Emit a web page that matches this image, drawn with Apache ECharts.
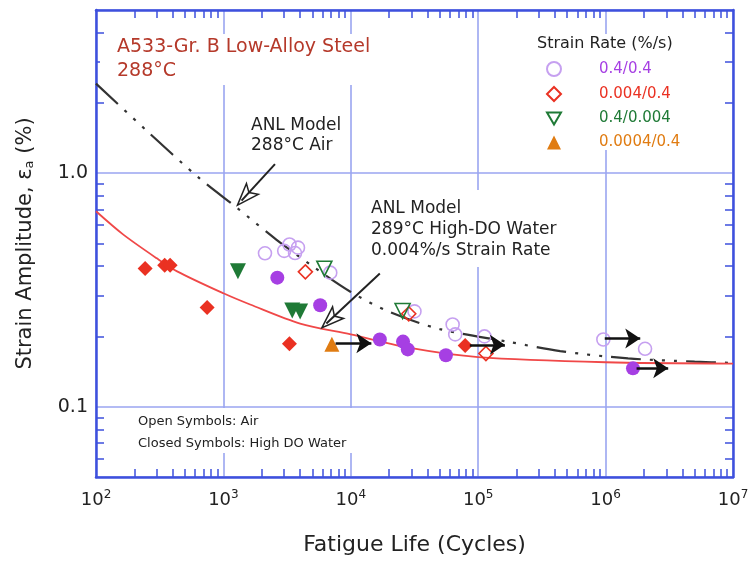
<!DOCTYPE html>
<html>
<head>
<meta charset="utf-8">
<script src="https://cdn.jsdelivr.net/npm/echarts@6/dist/echarts.min.js"></script>
<style>
html, body { margin: 0; padding: 0; background: #fff; }
#chart { width: 753px; height: 563px; }
</style>
</head>
<body>
<div id="chart"></div>
<script>
// Low-cycle fatigue of A533-Gr. B low-alloy steel at 288 °C
const FONT = 'DejaVu Sans';
const BLUE = '#3e50dd';
const GRID = '#9aa5f0';
const INK = '#222';

// Strain-rate groups (tension/compression, %/s)
const rateNames = ['0.4/0.4', '0.004/0.4', '0.4/0.004', '0.0004/0.4'];
const rateColors = ['#a63fe3', '#ea3122', '#1f7a36', '#e07c12'];
const openStroke = ['#c6a0f0', '#ea3122', '#1f7a36', '#e07c12'];
// Legend icons (the 0.4/0.004 group uses a downward triangle)
const legendIcons = ['circle', 'diamond', 'path://M0,0L12,0L6,10.4Z', 'triangle'];

// Open symbols: air tests
const air_04_04_N = [2120, 3000, 3300, 3650, 3850, 6900, 31600, 63000, 66000, 112000, 960000, 2040000];
const air_04_04_E = [0.454, 0.465, 0.495, 0.455, 0.480, 0.375, 0.256, 0.225, 0.204, 0.200, 0.194, 0.177];
const air_0004_04_N = [4400, 28500, 115000];
const air_0004_04_E = [0.378, 0.250, 0.169];
const air_04_0004_N = [6200, 25500];
const air_04_0004_E = [0.390, 0.257];

// Closed symbols: high-DO water tests
const wat_04_04_N = [2650, 5750, 16900, 25700, 28000, 55800, 1640000];
const wat_04_04_E = [0.357, 0.272, 0.194, 0.190, 0.176, 0.166, 0.146];
const wat_0004_04_N = [243, 346, 382, 745, 3300, 79000];
const wat_0004_04_E = [0.391, 0.403, 0.403, 0.266, 0.186, 0.183];
const wat_04_0004_N = [1300, 3470, 4000];
const wat_04_0004_E = [0.380, 0.258, 0.256];
const wat_00004_04_N = [7100];
const wat_00004_04_E = [0.185];

// Run-out tests (no failure): start and end of each arrow
const runStartN = [7600, 86000, 985000, 1750000];
const runEndN = [14500, 162000, 1870000, 3100000];
const runE = [0.187, 0.184, 0.196, 0.146];

// ANL model curves
const modelAirN = [100, 250, 650, 1280, 2600, 5000, 10000, 20000, 50000, 170000, 440000, 1500000, 5000000, 10000000];
const modelAirE = [2.42, 1.52, 0.95, 0.71, 0.52, 0.40, 0.31, 0.255, 0.215, 0.19, 0.173, 0.161, 0.156, 0.154];
const modelWatN = [100, 163, 300, 433, 1000, 1620, 4000, 10000, 30000, 100000, 1000000, 10000000];
const modelWatE = [0.687, 0.547, 0.432, 0.38, 0.306, 0.274, 0.227, 0.204, 0.178, 0.163, 0.155, 0.153];

// Axis ranges and minor tick positions
const xRange = [100, 10000000];
const yRange = [0.05, 5];
const xMinor = [];
for (let d = 100; d < 10000000; d *= 10) for (let k = 2; k <= 9; k++) xMinor.push(k * d);
const yMinor = [0.06, 0.07, 0.08, 0.09, 0.2, 0.3, 0.4, 0.5, 0.6, 0.7, 0.8, 0.9, 2, 3, 4];

function pts(xs, ys) { return xs.map((x, i) => [x, ys[i]]); }
function isDecade(v) { const l = Math.log10(v); return Math.abs(l - Math.round(l)) < 1e-6; }

const chart = echarts.init(document.getElementById('chart'));

const minorTickAxis = (pos, values, lineShow) => ({
  type: 'log', logBase: 10, position: pos,
  min: pos === 'left' || pos === 'right' ? yRange[0] : xRange[0],
  max: pos === 'left' || pos === 'right' ? yRange[1] : xRange[1],
  axisLine: { show: lineShow, lineStyle: { color: BLUE, width: 2.5 } },
  axisTick: { show: true, inside: true, length: 8, customValues: values, lineStyle: { color: BLUE, width: 1.5 } },
  axisLabel: { show: false },
  splitLine: { show: false }
});

function scatter(name, N, E, symbol, color, stroke, filled, rotate, size) {
  return {
    type: 'scatter', name: name, xAxisIndex: 0, yAxisIndex: 0,
    data: pts(N, E), symbol: symbol, symbolSize: size, symbolRotate: rotate || 0,
    itemStyle: filled
      ? { color: color, opacity: 1 }
      : { color: 'rgba(255,255,255,0)', borderColor: stroke, borderWidth: 1.6, opacity: 1 },
    z: 4, silent: true
  };
}

chart.setOption({
  animation: false,
  backgroundColor: '#fff',
  textStyle: { fontFamily: FONT },
  grid: { left: 96, right: 20, top: 10, bottom: 86 },
  xAxis: [
    {
      type: 'log', logBase: 10, min: xRange[0], max: xRange[1], position: 'bottom',
      axisLine: { show: true, lineStyle: { color: BLUE, width: 2.5 } },
      axisTick: { show: false },
      splitLine: { show: true, lineStyle: { color: GRID, width: 1.6 } },
      axisLabel: {
        margin: 12,
        formatter: v => isDecade(v) ? '{b|10}{s|' + Math.round(Math.log10(v)) + '}' : '',
        rich: {
          b: { fontFamily: FONT, fontSize: 18, color: INK, lineHeight: 22 },
          s: { fontFamily: FONT, fontSize: 12, color: INK, lineHeight: 12, verticalAlign: 'top' }
        }
      },
      name: 'Fatigue Life (Cycles)', nameLocation: 'middle', nameGap: 57,
      nameTextStyle: { fontFamily: FONT, fontSize: 22, color: INK }
    },
    minorTickAxis('bottom', xMinor, false),
    minorTickAxis('top', xMinor, true)
  ],
  yAxis: [
    {
      type: 'log', logBase: 10, min: yRange[0], max: yRange[1], position: 'left',
      axisLine: { show: true, lineStyle: { color: BLUE, width: 2.5 } },
      axisTick: { show: false },
      splitLine: { show: true, lineStyle: { color: GRID, width: 1.6 } },
      axisLabel: {
        margin: 8, fontFamily: FONT, fontSize: 19, color: INK,
        formatter: v => isDecade(v) ? (Math.round(Math.log10(v)) === 0 ? '1.0' : String(v)) : ''
      },
      name: 'Strain Amplitude, ε{sub|a} (%)', nameLocation: 'middle', nameGap: 60,
      nameTextStyle: {
        fontFamily: FONT, fontSize: 21, color: INK,
        rich: { sub: { fontFamily: FONT, fontSize: 13, color: INK, verticalAlign: 'bottom', lineHeight: 13 } }
      }
    },
    minorTickAxis('left', yMinor, false),
    minorTickAxis('right', yMinor, true)
  ],
  legend: {
    orient: 'vertical', left: 546, top: 61, padding: 0,
    itemWidth: 14, itemHeight: 14, itemGap: 9,
    selectedMode: false,
    textStyle: { fontFamily: FONT, fontSize: 15, lineHeight: 14, padding: [0, 0, 0, 33] },
    data: rateNames.map((n, i) => ({ name: n, icon: legendIcons[i], textStyle: { color: rateColors[i] } }))
  },
  series: [
    {
      type: 'line', name: 'ANL Model 288°C Air', xAxisIndex: 0, yAxisIndex: 0,
      data: pts(modelAirN, modelAirE), smooth: 0.3, showSymbol: false, silent: true,
      lineStyle: { color: '#333', width: 2.2, type: [30, 9, 3, 9, 3, 9, 3, 9] }, z: 3
    },
    {
      type: 'line', name: 'ANL Model 289°C High-DO Water', xAxisIndex: 0, yAxisIndex: 0,
      data: pts(modelWatN, modelWatE), smooth: 0.3, showSymbol: false, silent: true,
      lineStyle: { color: '#f04848', width: 1.8 }, z: 3
    },
    scatter(rateNames[0], air_04_04_N, air_04_04_E, 'circle', rateColors[0], openStroke[0], false, 0, 13),
    scatter(rateNames[1], air_0004_04_N, air_0004_04_E, 'diamond', rateColors[1], openStroke[1], false, 0, 14),
    scatter(rateNames[2], air_04_0004_N, air_04_0004_E, 'triangle', rateColors[2], openStroke[2], false, 180, 15),
    scatter(rateNames[0] + ' water', wat_04_04_N, wat_04_04_E, 'circle', rateColors[0], null, true, 0, 14),
    scatter(rateNames[1] + ' water', wat_0004_04_N, wat_0004_04_E, 'diamond', rateColors[1], null, true, 0, 15),
    scatter(rateNames[2] + ' water', wat_04_0004_N, wat_04_0004_E, 'triangle', rateColors[2], null, true, 180, 16),
    scatter(rateNames[3], wat_00004_04_N, wat_00004_04_E, 'triangle', rateColors[3], null, true, 0, 15),
    {
      type: 'lines', name: 'Run-out', coordinateSystem: 'cartesian2d', xAxisIndex: 0, yAxisIndex: 0,
      symbol: ['none', 'arrow'], symbolSize: 15, silent: true,
      lineStyle: { color: '#111', width: 2.6, opacity: 1 },
      data: runStartN.map((n, i) => ({ coords: [[n, runE[i]], [runEndN[i], runE[i]]] })),
      z: 6
    }
  ]
});

// Annotation arrows: hollow head, pointing from label to model curve
const annoTail = [[2540, 1.093], [16900, 0.372]];
const annoTip = [[1290, 0.73], [5940, 0.218]];

function hollowArrow(from, to) {
  const p0 = chart.convertToPixel({ xAxisIndex: 0, yAxisIndex: 0 }, from);
  const p1 = chart.convertToPixel({ xAxisIndex: 0, yAxisIndex: 0 }, to);
  const dx = p1[0] - p0[0], dy = p1[1] - p0[1];
  const L = Math.hypot(dx, dy), ux = dx / L, uy = dy / L, nx = -uy, ny = ux;
  const hl = 22, hw = 8;
  const bx = p1[0] - ux * hl, by = p1[1] - uy * hl;
  return [
    { type: 'polygon', z: 50,
      shape: { points: [p1, [bx + nx * hw, by + ny * hw], [bx + ux * 5, by + uy * 5], [bx - nx * hw, by - ny * hw]] },
      style: { fill: '#fff', stroke: '#222', lineWidth: 1.5 } },
    { type: 'polyline', z: 51,
      shape: { points: [p0, [p1[0] - ux * 6, p1[1] - uy * 6]] },
      style: { stroke: '#222', lineWidth: 2, fill: null } }
  ];
}

const cover = (x, y, w, h) => ({ type: 'rect', z: 1, shape: { x, y, width: w, height: h }, style: { fill: '#fff' }, silent: true });
const label = (x, y, text, size, color, lh) => ({
  type: 'text', z: 60, x, y, silent: true,
  style: { text, fontFamily: FONT, fontSize: size, fill: color, lineHeight: lh, verticalAlign: 'top' }
});

chart.setOption({
  graphic: {
    elements: [
      cover(100, 34, 290, 51),
      cover(515, 34, 190, 116),
      cover(366, 190, 198, 77),
      cover(120, 408, 240, 45),
      label(117, 35, 'A533-Gr. B Low-Alloy Steel\n288°C', 19, '#b5392a', 24),
      label(537, 35, 'Strain Rate (%/s)', 16, INK, 18),
      label(251, 116, 'ANL Model\n288°C Air', 17, INK, 20),
      label(371, 198, 'ANL Model\n289°C High-DO Water\n0.004%/s Strain Rate', 17, INK, 21),
      label(138, 411, 'Open Symbols: Air\nClosed Symbols: High DO Water', 13, INK, 22)
    ].concat(hollowArrow(annoTail[0], annoTip[0]), hollowArrow(annoTail[1], annoTip[1]))
  }
});
</script>
</body>
</html>
